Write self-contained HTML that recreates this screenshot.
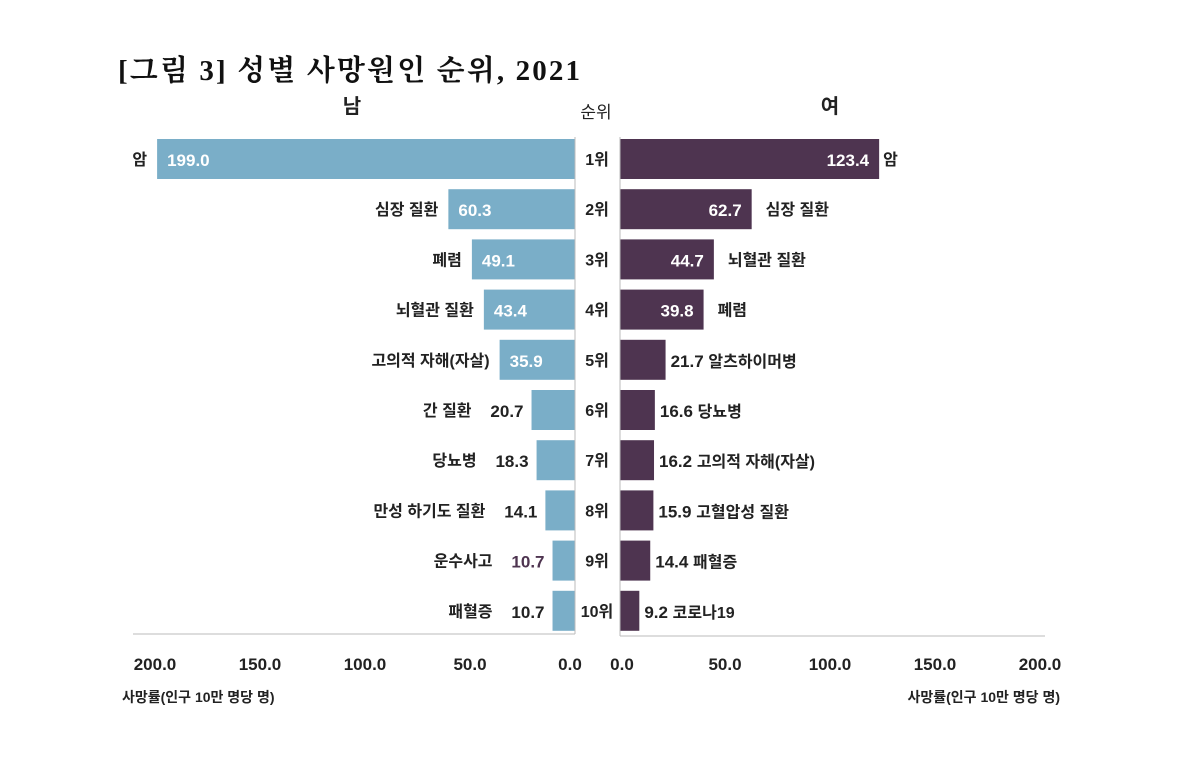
<!DOCTYPE html>
<html><head><meta charset="utf-8">
<style>
body{margin:0;background:#fff;}
svg{display:block;font-family:"Liberation Sans","Noto Sans CJK KR",sans-serif;}
</style></head><body>
<svg id="c" width="1192" height="758" viewBox="0 0 1192 758">
<text x="118" y="80" font-family="'Liberation Serif','Noto Serif CJK KR','Noto Serif CJK SC',serif" font-size="29" font-weight="bold" fill="#111" textLength="462" lengthAdjust="spacing">[그림 3] 성별 사망원인 순위, 2021</text>
<text x="352" y="113" font-size="20" font-weight="bold" text-anchor="middle" fill="#222">남</text>
<text x="596" y="118" font-size="17" text-anchor="middle" fill="#222">순위</text>
<text x="830" y="113" font-size="20" font-weight="bold" text-anchor="middle" fill="#222">여</text>
<g id="marks"></g>
<line x1="133" y1="634" x2="575" y2="634" stroke="#bbb"/>
<line x1="575" y1="137" x2="575" y2="634" stroke="#bbb"/>
<line x1="620" y1="636" x2="1045" y2="636" stroke="#bbb"/>
<line x1="620" y1="137" x2="620" y2="636" stroke="#bbb"/>
<text x="122" y="702" font-size="14" font-weight="bold" fill="#222">사망률(인구 10만 명당 명)</text>
<text x="1060" y="702" font-size="14" font-weight="bold" text-anchor="end" fill="#222">사망률(인구 10만 명당 명)</text>
</svg>
<script>
const ranks=["1위","2위","3위","4위","5위","6위","7위","8위","9위","10위"];
const maleCauses=["암","심장 질환","폐렴","뇌혈관 질환","고의적 자해(자살)","간 질환","당뇨병","만성 하기도 질환","운수사고","패혈증"];
const maleValues=[199.0,60.3,49.1,43.4,35.9,20.7,18.3,14.1,10.7,10.7];
const femaleCauses=["암","심장 질환","뇌혈관 질환","폐렴","알츠하이머병","당뇨병","고의적 자해(자살)","고혈압성 질환","패혈증","코로나19"];
const femaleValues=[123.4,62.7,44.7,39.8,21.7,16.6,16.2,15.9,14.4,9.2];
const ticks=[200,150,100,50,0];
const rTicks=[0,50,100,150,200];

const NS="http://www.w3.org/2000/svg";
const g=document.getElementById('marks');
const L0=575,R0=620,K=2.1;
const xl=v=>L0-v*K, xr=v=>R0+v*K;
const yc=i=>159+i*50.2;
function mk(t,a,txt,p){const e=document.createElementNS(NS,t);for(const k in a)e.setAttribute(k,a[k]);if(txt!=null)e.textContent=txt;(p||g).appendChild(e);return e;}
ranks.forEach((r,i)=>{
  const y=yc(i);
  const t=mk('text',{x:597,y:y+6,'font-size':16,'font-weight':'bold','text-anchor':'middle',fill:'#222'},r);
  
  
  const mv=maleValues[i];
  const b=mk('rect',{x:xl(mv),y:y-20,width:mv*K,height:40,fill:'#7aaec8'});
  
  
  const inside=mv>30;
  let vx,lx;
  if(inside){vx=xl(mv)+10;lx=xl(mv)-10;}
  else{vx=xl(mv)-8;lx=vx-52;}
  const vt=mk('text',{x:vx,y:y+7,'font-size':17,'font-weight':'bold','text-anchor':inside?'start':'end',fill:inside?'#fff':(i==8?'#4e3450':'#222')},mv.toFixed(1));
  
  
  const ct=mk('text',{x:lx,y:y+6,'font-size':16,'font-weight':'bold','text-anchor':'end',fill:'#222'},maleCauses[i]);
  
  
  const fv=femaleValues[i];
  const fb=mk('rect',{x:R0,y:y-20,width:fv*K,height:40,fill:'#4e3450'});
  
  
  const fin=fv>30;
  if(fin){
    const fvt=mk('text',{x:xr(fv)-10,y:y+7,'font-size':17,'font-weight':'bold','text-anchor':'end',fill:'#fff'},fv.toFixed(1));
    
    
    const fct=mk('text',{x:xr(fv)+(i==0?4:14),y:y+6,'font-size':16,'font-weight':'bold',fill:'#222'},femaleCauses[i]);
    
    
  } else {
    const tt=mk('text',{x:xr(fv)+5,y:y+7,'font-size':17,'font-weight':'bold',fill:'#222'},null);
    
    
    mk('tspan',{},fv.toFixed(1)+' ',tt);
    mk('tspan',{'font-size':16},femaleCauses[i],tt);
  }
});
ticks.forEach(v=>{
  const t=mk('text',{x:v==0?xl(v)-5:xl(v),y:670,'font-size':17,'font-weight':'bold','text-anchor':'middle',fill:'#222'},v.toFixed(1));
  
  
});
rTicks.forEach(v=>{
  const t=mk('text',{x:v==0?xr(v)+2:xr(v),y:670,'font-size':17,'font-weight':'bold','text-anchor':'middle',fill:'#222'},v.toFixed(1));
  
  
});
</script>
</body></html>
